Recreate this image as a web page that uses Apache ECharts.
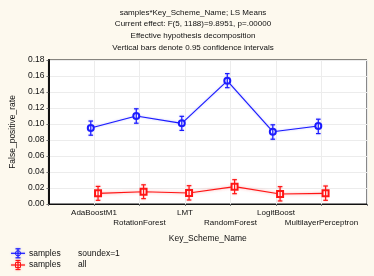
<!DOCTYPE html>
<html><head><meta charset="utf-8">
<script src="https://cdn.jsdelivr.net/npm/echarts@6/dist/echarts.min.js"></script>
<style>html,body{margin:0;padding:0;background:#fdf9ee}#c{width:374px;height:276px}</style>
</head><body><div id="c"></div>
<script>
var categories = ['AdaBoostM1','RotationForest','LMT','RandomForest','LogitBoost','MultilayerPerceptron'];
var blueMean  = [0.095, 0.110, 0.1008, 0.154, 0.0904, 0.0975];
var blueLow   = [0.086, 0.101, 0.092, 0.1454, 0.081, 0.088];
var blueHigh  = [0.1037, 0.119, 0.1096, 0.163, 0.099, 0.106];
var redMean   = [0.0133, 0.0154, 0.0137, 0.0217, 0.0125, 0.0133];
var redLow    = [0.0046, 0.0067, 0.005, 0.0129, 0.0038, 0.0046];
var redHigh   = [0.022, 0.024, 0.0229, 0.0304, 0.0217, 0.0225];
var yTicks = [0,0.02,0.04,0.06,0.08,0.10,0.12,0.14,0.16,0.18];
var titleLines = ['samples*Key_Scheme_Name; LS Means','Current effect: F(5, 1188)=9.8951, p=.00000','Effective hypothesis decomposition','Vertical bars denote 0.95 confidence intervals'];
var legendNames = ['soundex=1','all'];

var FONT = 'Liberation Sans, Arial, sans-serif';
var BLUE = '#1a1aff', RED = '#ff1414';
var blueOff = -0.07, redOff = 0.09;

function pts(mean, off){ return mean.map(function(v,i){ return [i+1+off, v]; }); }
function bars(low, high, off){ return low.map(function(v,i){ return [i+1+off, v, high[i]]; }); }
function errRender(color){
  return function(params, api){
    var x = api.value(0);
    var p1 = api.coord([x, api.value(1)]);
    var p2 = api.coord([x, api.value(2)]);
    var cw = 2.3;
    var st = {stroke: color, lineWidth: 1.2, shadowBlur: 2, shadowColor: color === RED ? 'rgba(255,90,90,0.5)' : 'rgba(90,90,255,0.4)'};
    return {type:'group', children:[
      {type:'line', shape:{x1:p1[0],y1:p1[1],x2:p2[0],y2:p2[1]}, style:st},
      {type:'line', shape:{x1:p1[0]-cw,y1:p1[1],x2:p1[0]+cw,y2:p1[1]}, style:st},
      {type:'line', shape:{x1:p2[0]-cw,y1:p2[1],x2:p2[0]+cw,y2:p2[1]}, style:st}
    ]};
  };
}

var chart = echarts.init(document.getElementById('c'), null, {renderer:'canvas'});
var graphics = titleLines.map(function(t,i){
  return {type:'text', x:193, y:12.7 + i*11.55, style:{text:t, font:'8px '+FONT, fill:'#111', align:'center', verticalAlign:'middle'}};
});
function legendIcon(y, color, sym){
  var halo = color === RED ? 'rgba(255,90,90,0.55)' : 'rgba(90,90,255,0.5)';
  var st = {stroke: color, lineWidth: 1.2, shadowBlur: 2, shadowColor: halo};
  var items = [
    {type:'line', shape:{x1:11,y1:y,x2:25,y2:y}, style:st},
    {type:'line', shape:{x1:18,y1:y-4.5,x2:18,y2:y+4.5}, style:st},
    {type:'line', shape:{x1:15.5,y1:y-4.5,x2:20.5,y2:y-4.5}, style:st},
    {type:'line', shape:{x1:15.5,y1:y+4.5,x2:20.5,y2:y+4.5}, style:st}
  ];
  if (sym === 'circle') items.push({type:'circle', shape:{cx:18,cy:y,r:2.6}, style:{fill:'none', stroke:color, lineWidth:1}});
  else items.push({type:'rect', shape:{x:15.5,y:y-2.5,width:5,height:5}, style:{fill:'none', stroke:color, lineWidth:1}});
  return items;
}
graphics = graphics.concat(legendIcon(253.3, BLUE, 'circle'), legendIcon(265, RED, 'rect'));
[253.3, 265].forEach(function(y, i){
  graphics.push({type:'text', x:29, y:y, style:{text:'samples', font:'8.5px '+FONT, fill:'#111', verticalAlign:'middle'}});
  graphics.push({type:'text', x:78, y:y, style:{text:legendNames[i], font:'8.5px '+FONT, fill:'#111', verticalAlign:'middle'}});
});

var option = {
  backgroundColor: '#fdf9ee',
  animation: false,
  grid: {left:48, right:7, top:60, bottom:72, show:true, backgroundColor:'#ffffff', borderColor:'#111', borderWidth:1},
  xAxis: [{
    type:'value', min:0, max:7, interval:1,
    name:'Key_Scheme_Name', nameLocation:'middle', nameGap:30,
    nameTextStyle:{fontFamily:FONT, fontSize:8.5, color:'#111'},
    axisLine:{show:true, lineStyle:{color:'#111', width:1}},
    axisTick:{show:true, length:2, lineStyle:{color:'#333'}},
    splitLine:{show:true, lineStyle:{color:'#ececec', width:1}},
    axisLabel:{fontFamily:FONT, fontSize:8, color:'#111', margin:4.5, lineHeight:9.5,
      formatter:function(v){ var i = Math.round(v); if (i<1||i>6) return ''; return (i%2===1 ? '' : '\n') + categories[i-1]; }}
  },{
    type:'value', min:0, max:7, interval:1, position:'top',
    axisLine:{show:true, lineStyle:{color:'#111'}},
    axisTick:{show:true, inside:true, length:2, lineStyle:{color:'#777'}},
    axisLabel:{show:false}, splitLine:{show:false}
  }],
  yAxis: [{
    type:'value', min:0, max:0.18, interval:0.02,
    name:'False_positive_rate', nameLocation:'middle', nameGap:27,
    nameTextStyle:{fontFamily:FONT, fontSize:8.5, color:'#111'},
    axisLine:{show:true, lineStyle:{color:'#111'}},
    axisTick:{show:false},
    splitLine:{show:true, lineStyle:{color:'#ececec'}},
    axisLabel:{fontFamily:FONT, fontSize:8.5, color:'#111', margin:4,
      formatter:function(v){ return v.toFixed(2); }}
  },{
    type:'value', min:0, max:0.18, interval:0.02, position:'right',
    axisLine:{show:true, lineStyle:{color:'#111', width:2}},
    axisTick:{show:true, inside:true, length:2, lineStyle:{color:'#777'}},
    axisLabel:{show:false}, splitLine:{show:false}
  }],
  series: [
    {type:'line', name:legendNames[0], data:pts(blueMean, blueOff), symbol:'emptyCircle', symbolSize:6,
     lineStyle:{color:BLUE, width:1.1, shadowBlur:2, shadowColor:'rgba(90,90,255,0.45)'}, itemStyle:{color:BLUE, borderWidth:0.9}, z:3},
    {type:'line', name:legendNames[1], data:pts(redMean, redOff), symbol:'emptyRect', symbolSize:6,
     lineStyle:{color:RED, width:1.1, shadowBlur:3, shadowColor:'rgba(255,90,90,0.6)'}, itemStyle:{color:RED, borderWidth:0.9}, z:3},
    {type:'custom', data:bars(blueLow, blueHigh, blueOff), renderItem:errRender(BLUE), encode:{x:0, y:[1,2]}, z:4},
    {type:'custom', data:bars(redLow, redHigh, redOff), renderItem:errRender(RED), encode:{x:0, y:[1,2]}, z:4}
  ],
  graphic: graphics
};
chart.setOption(option);
</script></body></html>
